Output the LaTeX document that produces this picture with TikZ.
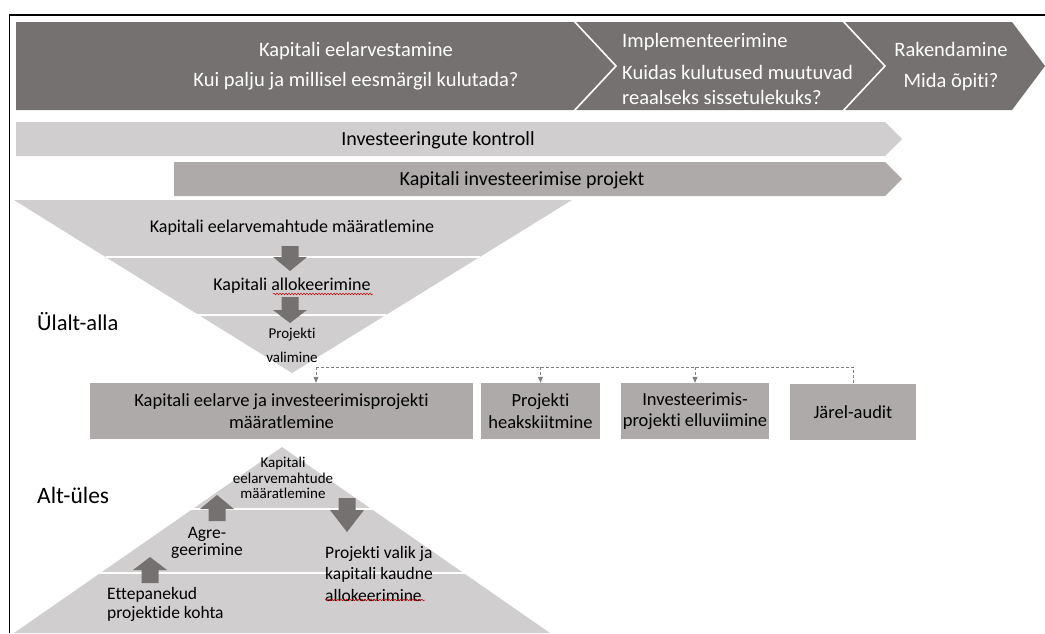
\documentclass[tikz,border=0pt]{standalone}
\usepackage{fontspec}
\setmainfont{Carlito}[Ligatures={NoCommon,NoContextual}]
\usetikzlibrary{arrows.meta,decorations.pathmorphing}
\definecolor{dk}{HTML}{767171}
\definecolor{lt}{HTML}{D0CECE}
\definecolor{md}{HTML}{AEAAAA}
\definecolor{cn}{HTML}{7F7F7F}
\newcommand{\fsz}[2]{\fontsize{#1}{#2}\selectfont}
\newcommand{\bdown}[4]{\fill[dk] (#1-8.5,#2) -- (#1+8.5,#2) -- (#1+8.5,#3) -- (#1+17,#3) -- (#1,#4) -- (#1-17,#3) -- (#1-8.5,#3) -- cycle;}
\begin{document}
\begin{tikzpicture}[x=1pt,y=-1pt,
  txt/.style={inner sep=0pt, align=center, text=black},
  bandtxt/.style={inner sep=0pt, align=center, text=white, font=\fsz{20.5}{30}},
  boxnode/.style={fill=md, inner sep=0pt, align=center, text=black, minimum height=56pt, font=\fsz{18.5}{21.5}},
  sepline/.style={white, line width=1.6pt},
  dashline/.style={cn, line width=0.8pt, dash pattern=on 3pt off 2pt},
  dtip/.style={-{Triangle[length=6pt,width=5pt]}},
  spell/.style={red!80!black, line width=0.5pt, decorate, decoration={snake, segment length=3pt, amplitude=0.8pt}}]
\useasboundingbox (0,0) rectangle (1045,633);
% frame
\draw[black, line width=1.5pt] (9.5,633) -- (9.5,15) -- (1045,15);
% top band
\fill[dk] (16,22) -- (1012,22) -- (1045,66) -- (1012,110) -- (16,110) -- cycle;
\draw[sepline] (573,20) -- (616,66) -- (573,112);
\draw[sepline] (842,20) -- (885,66) -- (842,112);
\node[bandtxt] (t1) at (356,66.5) {Kapitali eelarvestamine\\Kui palju ja millisel eesmärgil kulutada?};
\node[bandtxt, align=left, anchor=west, font=\fsz{20.5}{25}] (t2) at (622,68.5) {Implementeerimine\\[7pt]Kuidas kulutused muutuvad\\reaalseks sissetulekuks?};
\node[bandtxt, font=\fsz{20.5}{31}] (t3) at (951,67) {Rakendamine\\Mida õpiti?};
% bars
\fill[lt] (16,122) -- (885,122) -- (902,139) -- (885,156) -- (16,156) -- cycle;
\fill[md] (174,162) -- (885,162) -- (902,179) -- (885,196) -- (174,196) -- cycle;
\node[txt, font=\fsz{20}{24}] (c1) at (438,140) {Investeeringute kontroll};
\node[txt, font=\fsz{20}{24}] (c2) at (522,180) {Kapitali investeerimise projekt};
% funnel
\fill[lt] (14,200) -- (572,200) -- (292,373) -- cycle;
\draw[sepline] (106,257) -- (480,257);
\draw[sepline] (198,315) -- (386,315);
\bdown{290}{246}{257}{271}
\bdown{290}{297}{310}{323}
\node[txt, font=\fsz{18}{22}] (f1) at (292,228) {Kapitali eelarvemahtude määratlemine};
\node[txt, font=\fsz{18}{22}] (f2) at (292,286) {Kapitali allokeerimine};
\draw[spell] (273,294) -- (373,294);
\node[txt, font=\fsz{15}{24}] (f3) at (292,345) {Projekti\\valimine};
\node[txt, anchor=west, font=\fsz{22.5}{27}] (ua) at (37,322) {Ülalt-alla};
% boxes
\node[boxnode, minimum width=383pt] (b1) at (281.5,411) {Kapitali eelarve ja investeerimisprojekti\\määratlemine};
\node[boxnode, minimum width=119pt] (b2) at (540.5,411) {Projekti\\heakskiitmine};
\node[boxnode, minimum width=148pt] (b3) at (695,411) {Investeerimis-\\projekti elluviimine};
\node[boxnode, minimum width=126pt] (b4) at (853,412) {Järel-audit};
% dashed connectors
\coordinate (ds) at (316,367);
\coordinate (de) at (b4.north |- ds);
\draw[dashline] (ds) -- (de) -- (b4.north);
\draw[dashline, dtip] (ds) -- (ds |- b1.north);
\draw[dashline, dtip] (b2.north |- ds) -- (b2.north);
\draw[dashline, dtip] (b3.north |- ds) -- (b3.north);
% pyramid
\fill[lt] (282,447) -- (550,633) -- (14,633) -- cycle;
\draw[sepline] (190,509) -- (374,509);
\draw[sepline] (97,573) -- (467,573);
\bdown{217}{521}{509}{495}
\bdown{347}{498}{510}{532}
\bdown{150}{583}{570}{557}
\node[txt, font=\fsz{15}{15.5}] (p1) at (283,478) {Kapitali\\eelarvemahtude\\määratlemine};
\node[txt, font=\fsz{17.5}{17}] (p2) at (207,543) {Agre-\\geerimine};
\node[txt, align=left, anchor=west, font=\fsz{17.5}{21.5}] (p3) at (325,573.5) {Projekti valik ja\\kapitali kaudne\\allokeerimine};
\draw[spell] (325,600) -- (425,600);
\node[txt, align=left, anchor=west, font=\fsz{17.5}{19}] (p4) at (107,604) {Ettepanekud\\projektide kohta};
\node[txt, anchor=west, font=\fsz{23.5}{27}] (au) at (37,495) {Alt-üles};
\end{tikzpicture}
\end{document}
